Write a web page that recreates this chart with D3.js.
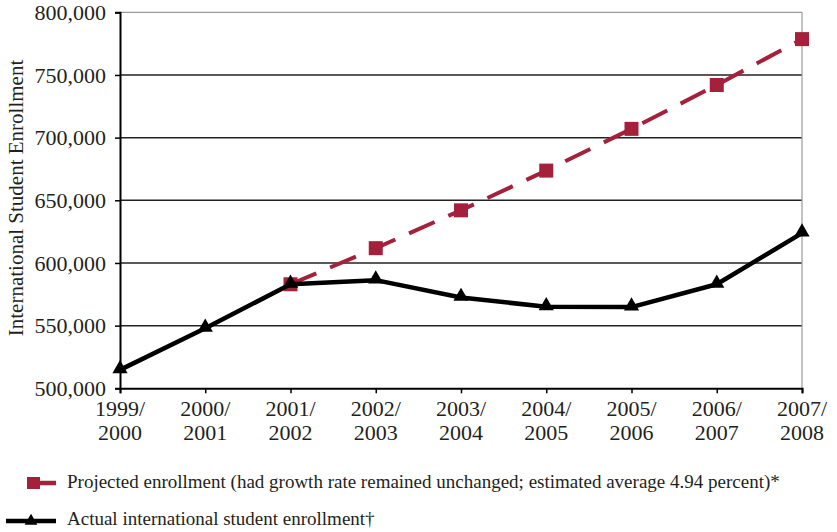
<!DOCTYPE html>
<html>
<head>
  <meta charset="utf-8">
  <title>Enrollment</title>
  <script src="https://cdn.jsdelivr.net/npm/d3@7"></script>
  <style>
    body { margin: 0; background: #fff; }
    text { font-family: "Liberation Serif", "DejaVu Serif", serif; fill: #231f20; }
  </style>
</head>
<body>
<svg id="chart" width="837" height="532"></svg>
<script>
  const years = ["1999/2000", "2000/2001", "2001/2002", "2002/2003", "2003/2004",
                 "2004/2005", "2005/2006", "2006/2007", "2007/2008"];
  const actual = [514700, 547900, 583000, 586300, 572500, 565000, 564800, 583000, 623800];
  const projYears = ["2001/2002", "2002/2003", "2003/2004", "2004/2005", "2005/2006", "2006/2007", "2007/2008"];
  const projected = [583000, 611800, 642000, 673700, 707000, 742000, 778600];
  const yTicks = [500000, 550000, 600000, 650000, 700000, 750000, 800000];

  const red = "#a4203b";
  const svg = d3.select("#chart");
  const plotL = 120, plotR = 802, plotT = 12.3, plotB = 388.3;

  const x = d3.scalePoint().domain(years).range([plotL, plotR]);
  const y = d3.scaleLinear().domain([500000, 800000]).range([plotB, plotT]);
  const fmt = d3.format(",");

  // grid lines
  svg.append("g").selectAll("line")
    .data(yTicks.filter(d => d > 500000))
    .join("line")
    .attr("x1", plotL).attr("x2", plotR)
    .attr("y1", d => y(d)).attr("y2", d => y(d))
    .attr("stroke", d => d === 800000 ? "#9a9a9a" : "#222")
    .attr("stroke-width", d => d === 800000 ? 1.2 : 1.5);

  // right border
  svg.append("line")
    .attr("x1", plotR).attr("x2", plotR).attr("y1", plotT).attr("y2", plotB)
    .attr("stroke", "#9a9a9a").attr("stroke-width", 1.2);

  // y axis
  const yAxis = svg.append("g")
    .attr("transform", `translate(${plotL},0)`)
    .call(d3.axisLeft(y).tickValues(yTicks).tickFormat(fmt).tickSize(5).tickPadding(9));
  yAxis.select(".domain").attr("stroke", "#000").attr("stroke-width", 2);
  yAxis.selectAll(".tick line").attr("stroke", "#000").attr("stroke-width", 1.5);
  yAxis.selectAll("text").attr("font-size", 22).attr("fill", "#231f20")
    .attr("font-family", "Liberation Serif");

  // x axis
  const xAxis = svg.append("g")
    .attr("transform", `translate(0,${plotB})`)
    .call(d3.axisBottom(x).tickSize(5).tickFormat(""));
  xAxis.select(".domain").attr("stroke", "#000").attr("stroke-width", 2);
  xAxis.selectAll(".tick line").attr("stroke", "#000").attr("stroke-width", 1.5);

  const xl = svg.append("g").selectAll("text")
    .data(years)
    .join("text")
    .attr("text-anchor", "middle")
    .attr("font-size", 22)
    .attr("transform", d => `translate(${x(d)},0)`);
  xl.append("tspan").attr("x", 0).attr("y", 416).text(d => d.split("/")[0] + "/");
  xl.append("tspan").attr("x", 0).attr("y", 440).text(d => d.split("/")[1]);

  // y title
  svg.append("text")
    .attr("transform", "translate(23,198) rotate(-90)")
    .attr("text-anchor", "middle")
    .attr("font-size", 21)
    .text("International Student Enrollment");

  // projected series
  const projData = projYears.map((d, i) => ({ k: d, v: projected[i] }));
  const actData = years.map((d, i) => ({ k: d, v: actual[i] }));
  const line = d3.line().x(d => x(d.k)).y(d => y(d.v));

  svg.append("path")
    .datum(projData)
    .attr("d", line)
    .attr("fill", "none")
    .attr("stroke", red)
    .attr("stroke-width", 4)
    .attr("stroke-dasharray", "28,15");

  svg.append("g").selectAll("rect")
    .data(projData)
    .join("rect")
    .attr("x", d => x(d.k) - 7).attr("y", d => y(d.v) - 7)
    .attr("width", 14).attr("height", 14)
    .attr("fill", red);

  // actual series
  svg.append("path")
    .datum(actData)
    .attr("d", line)
    .attr("fill", "none")
    .attr("stroke", "#000")
    .attr("stroke-width", 4.5)
    .attr("stroke-linejoin", "round");

  const tri = d3.symbol().type(d3.symbolTriangle).size(100);
  svg.append("g").selectAll("path")
    .data(actData)
    .join("path")
    .attr("d", tri)
    .attr("transform", d => `translate(${x(d.k)},${y(d.v) - 1})`)
    .attr("fill", "#000");

  // legend
  const lg = svg.append("g");
  lg.append("line").attr("x1", 40).attr("x2", 56).attr("y1", 483).attr("y2", 483)
    .attr("stroke", red).attr("stroke-width", 4.5);
  lg.append("rect").attr("x", 27).attr("y", 477).attr("width", 13).attr("height", 12).attr("fill", red);
  lg.append("text").attr("x", 67).attr("y", 488).attr("font-size", 19)
    .text("Projected enrollment (had growth rate remained unchanged; estimated average 4.94 percent)*");

  lg.append("line").attr("x1", 6).attr("x2", 56).attr("y1", 521).attr("y2", 521)
    .attr("stroke", "#000").attr("stroke-width", 4.5);
  lg.append("path").attr("d", d3.symbol().type(d3.symbolTriangle).size(70))
    .attr("transform", "translate(31,521)").attr("fill", "#000");
  lg.append("text").attr("x", 67).attr("y", 525).attr("font-size", 19)
    .text("Actual international student enrollment\u2020");
</script>
</body>
</html>
